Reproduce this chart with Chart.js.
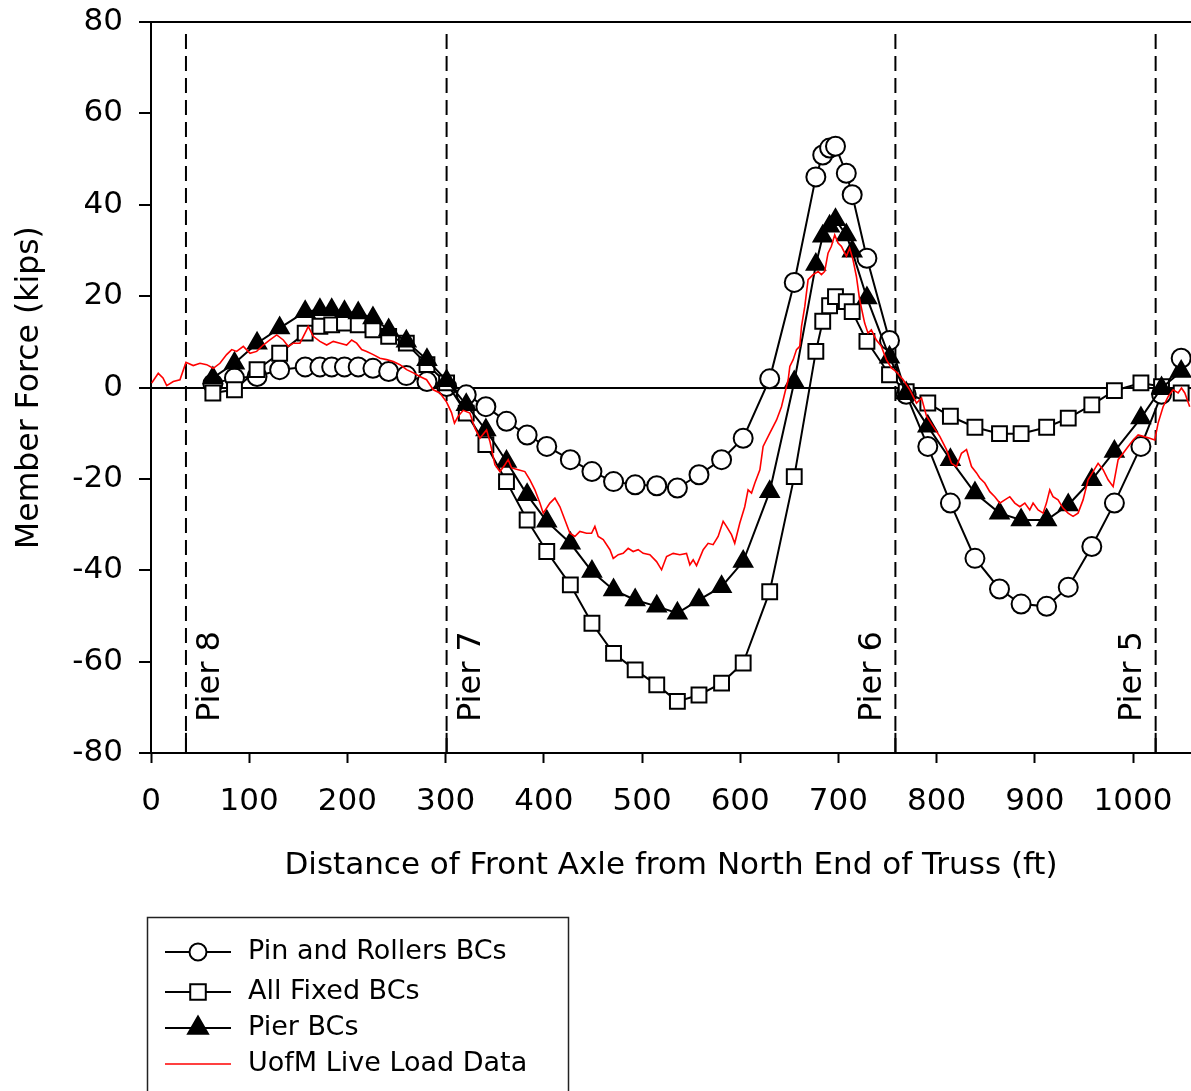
<!DOCTYPE html>
<html>
<head>
<meta charset="utf-8">
<title>Member Force vs Front Axle Position</title>
<script src="https://cdn.jsdelivr.net/npm/chart.js@4.4.1/dist/chart.umd.min.js"></script>
<style>
  html, body { margin: 0; padding: 0; background: #fff; }
  #wrap { width: 1191px; height: 1091px; }
</style>
</head>
<body>
<div id="wrap"><canvas id="forceChart" width="1191" height="1091"></canvas></div>
<script>
// front axle positions (ft) used for the three FE models
const axlePos = [63, 85, 108, 131, 157, 172, 184, 197, 211, 226, 242, 260, 281, 301, 321,
  341, 362, 383, 403, 427, 449, 471, 493, 515, 536, 558, 581, 603, 630, 655,
  677, 684, 691, 697, 708, 714, 729, 752,
  769, 791, 814, 839, 864, 886, 912, 934, 958, 981, 1008, 1029, 1049];

const pinRollers = [0.8, 2.1, 2.4, 3.9, 4.5, 4.5, 4.5, 4.5, 4.5, 4.2, 3.5, 2.6, 1.3, 0.2, -1.6,
  -4.2, -7.4, -10.4, -12.9, -15.8, -18.4, -20.6, -21.3, -21.5, -22.0, -19.1, -15.8, -11.1, 1.9, 23.0,
  46.1, 50.9, 52.4, 52.8, 46.9, 42.2, 28.3, 10.3,
  -1.5, -12.9, -25.3, -37.4, -44.1, -47.4, -47.9, -43.7, -34.8, -25.3, -12.9, -1.5, 6.4];

const allFixed = [-1.2, -0.5, 3.9, 7.5, 11.9, 13.4, 13.7, 14.1, 13.7, 12.6, 11.2, 9.7, 5.0, 1.0, -5.6,
  -12.5, -20.6, -29.0, -35.9, -43.2, -51.6, -58.2, -61.8, -65.1, -68.7, -67.3, -64.7, -60.3, -44.7, -19.5,
  7.9, 14.5, 17.9, 19.9, 18.8, 16.6, 10.1, 2.8,
  -0.9, -3.4, -6.3, -8.7, -10.1, -10.1, -8.7, -6.7, -3.8, -0.7, 1.0, 0.2, -1.2];

const pierBCs = [2.1, 5.3, 9.7, 13.0, 16.6, 17.0, 17.0, 16.6, 16.3, 15.2, 12.6, 10.1, 6.1, 1.5, -3.8,
  -9.3, -16.2, -23.5, -29.3, -34.1, -40.3, -44.3, -46.5, -47.9, -49.4, -46.5, -43.6, -38.1, -22.8, 1.2,
  26.9, 33.1, 35.3, 36.7, 33.4, 29.8, 19.6, 6.6,
  -1.2, -8.5, -15.8, -23.1, -27.5, -29.0, -29.0, -25.7, -20.2, -14.0, -6.7, -0.1, 3.5];

// UofM live load test record
const liveLoadPos = [0.7, 7.4, 12.2, 16, 22.7, 29.5, 35.6, 43, 49.9, 56.7, 63.4, 70.2, 77, 82.2, 87.2,
  94, 100.8, 107.6, 114.3, 121.1, 128, 134.7, 139.8, 144.9, 151.7, 158.5, 160.1, 165.2, 172, 178.9,
  185.6, 192.4, 199.2, 204.3, 209.4, 214.5, 219.6, 226.3, 233.1, 239.9, 246.7, 253.5, 260.3, 267.1, 273.8,
  280.6, 287.4, 294.2, 301, 306, 309, 312.8, 317.9, 324.7, 329.8, 334.9, 341.7, 345.1, 350.2, 355.3,
  360.4, 363.7, 367.2, 373.9, 380.7, 385.8, 390.9, 396, 399.4, 406.2, 411.3, 416.4, 421.5, 426.6, 431.6,
  436.7, 443.5, 448.6, 452, 455.4, 460.5, 467.3, 470.7, 475.8, 480.8, 485.9, 491, 496.1, 501.2, 508,
  514.8, 519.9, 525, 531.7, 538.5, 545.3, 548.7, 552.1, 555.5, 562.3, 567.3, 572.4, 577.5, 582.6, 586,
  591.1, 594.4, 599.5, 604.6, 608, 611.5, 614.9, 620, 623.3, 630.1, 637, 642, 645.4, 648.8, 650.5,
  653.9, 657.3, 660.6, 662.4, 665.7, 669.1, 674.2, 679.3, 682.7, 686, 689.4, 692.8, 696.2, 699.6, 703,
  708.1, 711.4, 714.8, 718.3, 721.6, 726.7, 730.1, 733.5, 738.6, 743.7, 748.8, 753.9, 759.1, 765.9, 772.7,
  779.5, 784.6, 789.7, 796.4, 803.2, 810, 815.1, 820.2, 825.3, 830.4, 835.5, 840.6, 843.9, 849, 854.1,
  859.2, 864.3, 869.4, 874.5, 879.6, 884.7, 889.8, 894.8, 898.2, 903.3, 908.4, 911.8, 915.2, 918.5, 923.6,
  928.7, 933.8, 938.9, 944, 949.1, 954.2, 959.3, 964.4, 969.5, 974.6, 979.7, 984.8, 989.9, 995, 1000.1,
  1005.2, 1010.3, 1017, 1022.1, 1025.5, 1030.6, 1035.7, 1040.8, 1045.9, 1049.3, 1052.7, 1057.7];

const liveLoadForce = [1.0, 3.1, 2.1, 0.4, 1.3, 1.7, 5.5, 4.8, 5.3, 5.0, 4.2, 5.3, 7.2, 8.3, 7.9,
  9.0, 7.5, 7.9, 9.3, 10.4, 11.5, 10.4, 9.0, 9.7, 9.7, 12.6, 13.4, 11.2, 10.1, 9.3,
  10.1, 9.7, 9.3, 10.4, 9.7, 8.3, 7.9, 7.2, 6.4, 6.1, 5.7, 5.0, 3.9, 3.2, 2.4,
  1.7, -0.5, -1.2, -3.2, -5.5, -7.8, -6.3, -5.0, -5.6, -8.9, -11.1, -9.3, -11.8, -16.9, -18.4,
  -16.9, -15.8, -17.6, -18.0, -18.4, -20.2, -22.4, -25.3, -27.5, -25.3, -24.2, -26.1, -29.0, -31.9, -32.6,
  -31.5, -31.9, -31.9, -30.4, -32.6, -33.3, -35.5, -37.4, -36.6, -36.3, -35.2, -35.9, -35.5, -36.3, -36.6,
  -38.1, -39.9, -37.0, -36.3, -36.6, -36.3, -38.8, -37.7, -39.0, -35.5, -34.1, -34.4, -32.6, -29.3, -30.4,
  -32.2, -34.1, -29.7, -26.1, -22.4, -23.1, -20.9, -18.0, -12.9, -10.0, -7.1, -4.2, -1.2, 1.7, 4.6,
  6.1, 8.3, 9.0, 13.4, 17.7, 23.6, 24.7, 25.4, 24.7, 25.4, 29.4, 30.9, 33.4, 31.6, 30.9,
  28.7, 30.5, 28.0, 24.3, 19.2, 14.1, 11.9, 12.6, 10.4, 9.0, 6.1, 4.3, 3.4, 1.7, -0.5,
  -3.4, -2.3, -6.3, -8.5, -10.7, -13.6, -16.6, -17.3, -14.4, -13.6, -17.3, -18.7, -19.8, -20.9, -22.8,
  -23.9, -25.3, -24.6, -23.9, -25.3, -26.1, -25.3, -26.8, -25.3, -26.8, -27.5, -25.3, -22.4, -23.9, -24.6,
  -26.4, -27.5, -28.2, -27.5, -24.6, -20.2, -18.4, -16.6, -18.0, -20.2, -21.7, -15.8, -14.4, -12.9, -11.5,
  -10.4, -10.7, -11.1, -11.5, -7.8, -4.2, -2.0, -0.5, -1.2, -0.1, -1.2, -4.2];

// pier locations along the truss (ft)
const pierPos = [35.6, 301, 758, 1023];
const pierNames = ['Pier 8', 'Pier 7', 'Pier 6', 'Pier 5'];
const pierSide = [1, 1, -1, -1];   // label to the right (+1) or left (-1) of the dashed line

const xTickValues = [0, 100, 200, 300, 400, 500, 600, 700, 800, 900, 1000];
const yTickValues = [-80, -60, -40, -20, 0, 20, 40, 60, 80];

const FONT = 'DejaVu Sans';

function pairs(xs, ys) {
  return xs.map((x, i) => ({ x: x, y: ys[i] }));
}

function modelSeries(label, values, style, fill, radius, keyRadius, order) {
  return {
    label: label,
    data: pairs(axlePos, values),
    borderColor: '#000',
    borderWidth: 2,
    pointStyle: style,
    pointRadius: radius,
    pointBackgroundColor: fill,
    pointBorderColor: '#000',
    pointBorderWidth: 2,
    keyRadius: keyRadius,
    tension: 0,
    order: order
  };
}

const datasets = [
  modelSeries('Pin and Rollers BCs', pinRollers, 'circle', '#fff', 9.5, 8.5, 3),
  modelSeries('All Fixed BCs', allFixed, 'rect', '#fff', 10.5, 11, 2),
  modelSeries('Pier BCs', pierBCs, 'triangle', '#000', 10.5, 11.5, 1),
  {
    label: 'UofM Live Load Data',
    data: pairs(liveLoadPos, liveLoadForce),
    borderColor: '#ff0000',
    borderWidth: 1.6,
    pointRadius: 0,
    tension: 0,
    order: 0
  }
];

// dashed pier lines plus the short solid tick at the axis
pierPos.forEach(p => {
  datasets.push({
    data: [{ x: p, y: -80 }, { x: p, y: 78.8 }],
    borderColor: '#000', borderWidth: 2, borderDash: [15, 7],
    pointRadius: 0, order: 10, noLegend: true
  });
  datasets.push({
    data: [{ x: p, y: -80 }, { x: p, y: -75.6 }],
    borderColor: '#000', borderWidth: 2,
    pointRadius: 0, order: 10, noLegend: true
  });
});

function drawMarker(ctx, style, r, x, y) {
  ctx.beginPath();
  if (style === 'circle') {
    ctx.arc(x, y, r, 0, Math.PI * 2);
  } else if (style === 'rect') {
    const s = Math.SQRT1_2 * r;
    ctx.rect(x - s, y - s, 2 * s, 2 * s);
  } else if (style === 'triangle') {
    ctx.moveTo(x, y - r);
    ctx.lineTo(x + r * Math.sin(2 * Math.PI / 3), y - r * Math.cos(2 * Math.PI / 3));
    ctx.lineTo(x + r * Math.sin(4 * Math.PI / 3), y - r * Math.cos(4 * Math.PI / 3));
    ctx.closePath();
  }
  ctx.fill();
  ctx.stroke();
}

// rotated "Pier n" captions next to the dashed lines
const pierLabels = {
  id: 'pierLabels',
  afterDatasetsDraw(chart) {
    const ctx = chart.ctx;
    const xs = chart.scales.x;
    const area = chart.chartArea;
    ctx.save();
    ctx.font = '32px "' + FONT + '"';
    ctx.fillStyle = '#000';
    ctx.textAlign = 'left';
    ctx.textBaseline = 'middle';
    pierPos.forEach((p, i) => {
      ctx.save();
      ctx.translate(xs.getPixelForValue(p) + pierSide[i] * (pierSide[i] > 0 ? 25 : 23), area.bottom - 31);
      ctx.rotate(-Math.PI / 2);
      ctx.fillText(pierNames[i], 0, 0);
      ctx.restore();
    });
    ctx.restore();
  }
};

// boxed legend under the plot
const boxLegend = {
  id: 'boxLegend',
  afterDraw(chart) {
    const ctx = chart.ctx;
    const rowY = [952, 992, 1028, 1064];
    const items = chart.data.datasets.filter(d => !d.noLegend);
    ctx.save();
    ctx.strokeStyle = '#222';
    ctx.lineWidth = 1.5;
    ctx.strokeRect(147.5, 917.5, 421, 220);
    ctx.font = '27px "' + FONT + '"';
    ctx.textAlign = 'left';
    ctx.textBaseline = 'middle';
    items.forEach((d, i) => {
      const y = rowY[i];
      ctx.strokeStyle = d.borderColor;
      ctx.lineWidth = d.borderWidth;
      ctx.beginPath();
      ctx.moveTo(165, y);
      ctx.lineTo(231, y);
      ctx.stroke();
      if (d.pointRadius > 0) {
        ctx.fillStyle = d.pointBackgroundColor;
        ctx.strokeStyle = d.pointBorderColor;
        ctx.lineWidth = d.pointBorderWidth;
        drawMarker(ctx, d.pointStyle, d.keyRadius, 198, y);
      }
      ctx.fillStyle = '#000';
      ctx.fillText(d.label, 248, y);
    });
    ctx.restore();
  }
};

// keep the plot box where it is: no extra room for overhanging tick labels
function noEdgePadding(s) {
  s.paddingTop = 0;
  s.paddingBottom = 0;
  s.paddingLeft = 0;
  s.paddingRight = 0;
}

new Chart(document.getElementById('forceChart'), {
  type: 'line',
  data: { datasets: datasets },
  options: {
    responsive: false,
    animation: false,
    layout: { autoPadding: false, padding: { top: 22, right: 0, left: 0, bottom: 0 } },
    plugins: {
      legend: { display: false },
      tooltip: { enabled: false }
    },
    scales: {
      x: {
        type: 'linear',
        position: 'bottom',
        min: 0,
        max: 1059,
        afterBuildTicks: s => { s.ticks = xTickValues.map(v => ({ value: v })); },
        afterFit: s => { s.height = 338; noEdgePadding(s); },
        border: { color: '#000', width: 2 },
        grid: { drawOnChartArea: false, drawTicks: true, tickLength: 10, tickColor: '#000', tickWidth: 2 },
        ticks: {
          color: '#000',
          font: { family: FONT, size: 31 },
          padding: 20,
          maxRotation: 0,
          autoSkip: false,
          callback: v => String(v)
        },
        title: {
          display: true,
          text: 'Distance of Front Axle from North End of Truss (ft)',
          color: '#000',
          font: { family: FONT, size: 31 },
          padding: { top: 0, bottom: 206 }
        }
      },
      xTop: {
        type: 'linear',
        position: 'top',
        min: 0,
        max: 1059,
        afterFit: s => { s.height = 0; noEdgePadding(s); },
        border: { color: '#000', width: 2 },
        grid: { drawOnChartArea: false, drawTicks: false },
        ticks: { display: false }
      },
      y: {
        type: 'linear',
        position: 'left',
        min: -80,
        max: 80,
        afterBuildTicks: s => { s.ticks = yTickValues.map(v => ({ value: v })); },
        afterFit: s => { s.width = 151; noEdgePadding(s); },
        border: { color: '#000', width: 2 },
        grid: {
          color: c => (c.tick && c.tick.value === 0 ? '#000' : 'rgba(0,0,0,0)'),
          lineWidth: 2,
          drawTicks: true,
          tickLength: 12,
          tickColor: '#000',
          tickWidth: 2
        },
        ticks: { color: '#000', font: { family: FONT, size: 31 }, padding: 16, callback: v => String(v) },
        title: {
          display: true,
          text: 'Member Force (kips)',
          color: '#000',
          font: { family: FONT, size: 31.5 },
          padding: { top: 11, bottom: 0 }
        }
      }
    }
  },
  plugins: [pierLabels, boxLegend]
});
</script>
</body>
</html>
